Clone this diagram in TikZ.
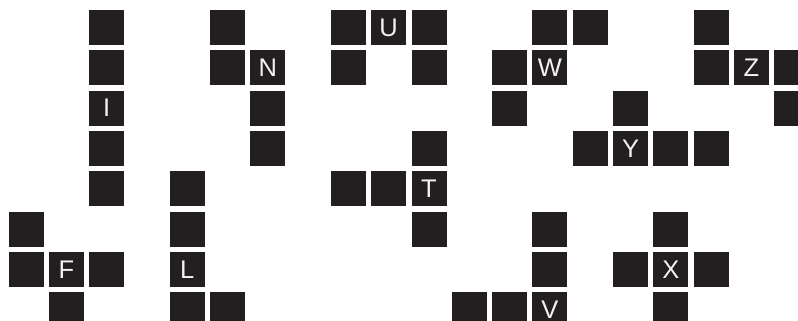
\documentclass[tikz,border=0pt]{standalone}
\usepackage{fontspec}
\setmainfont{Liberation Sans}
\definecolor{sqfill}{HTML}{231F20}
\definecolor{sqtext}{HTML}{F2F2F2}
\begin{document}
\begin{tikzpicture}[x=1pt,y=-1pt,
  sq/.style={rectangle,fill=sqfill,minimum size=35pt,inner sep=0pt,text=sqtext,font=\fontsize{25.5}{25.5}\selectfont}]
\useasboundingbox (0,0) rectangle (798,321);
\clip (0,0) rectangle (798,321);
\foreach \c/\r/\t/\n in {
  2/0//I1, 2/1//I2, 2/2/I/I3, 2/3//I4, 2/4//I5,
  0/5//F1, 0/6//F2, 1/6/F/F3, 2/6//F4, 1/7//F5,
  4/4//L1, 4/5//L2, 4/6/L/L3, 4/7//L4, 5/7//L5,
  5/0//N1, 5/1//N2, 6/1/N/N3, 6/2//N4, 6/3//N5,
  8/0//U1, 9/0/U/U2, 10/0//U3, 8/1//U4, 10/1//U5,
  10/3//T1, 8/4//T2, 9/4//T3, 10/4/T/T4, 10/5//T5,
  13/5//V1, 13/6//V2, 11/7//V3, 12/7//V4, 13/7/V/V5,
  13/0//W1, 14/0//W2, 12/1//W3, 13/1/W/W4, 12/2//W5,
  15/2//Y1, 14/3//Y2, 15/3/Y/Y3, 16/3//Y4, 17/3//Y5,
  17/0//Z1, 17/1//Z2, 18/1/Z/Z3, 19/1//Z4, 19/2//Z5,
  16/5//X1, 15/6//X2, 16/6/X/X3, 17/6//X4, 16/7//X5}
  \node[sq] (\n) at ({26+40.3*\c},{27.5+40.3*\r}) {\t};
\end{tikzpicture}
\end{document}
